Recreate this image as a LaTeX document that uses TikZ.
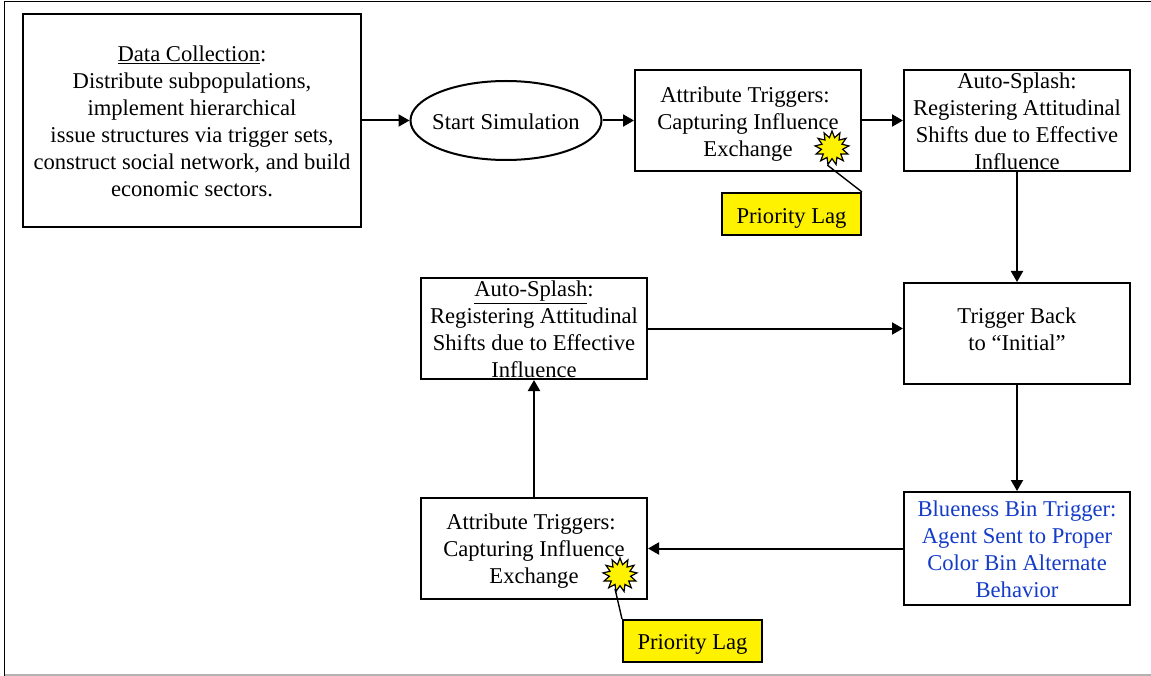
\documentclass[tikz,border=0pt]{standalone}
\usepackage{fontspec}
\setmainfont{Liberation Serif}
\usetikzlibrary{arrows.meta,shapes.geometric}
\definecolor{bluetext}{RGB}{20,60,200}
\tikzset{
  x=1pt,y=-1pt,
  boxed/.style={draw=black,line width=2pt,fill=white,rectangle,inner sep=0pt,font=\fontsize{22.6}{27}\selectfont},
  lagbox/.style={boxed,fill=yellow,minimum width=139pt,minimum height=42pt},
  burst/.style={draw=black,line width=1.2pt,fill=yellow,star,star points=13,star point ratio=1.6,minimum size=34pt,inner sep=0pt},
  flow/.style={draw=black,line width=2pt,-{Triangle[length=11pt,width=12pt]}},
  lead/.style={draw=black,line width=1.4pt},
}
\newcommand{\placed}[2]{\smash{\raisebox{#1pt}{\makebox[0pt]{\parbox[c]{340pt}{\centering #2}}}}}
\begin{document}
\begin{tikzpicture}
\useasboundingbox (0,0) rectangle (1151,676);
\draw[black,line width=1.4pt] (4.5,676) -- (4.5,1.5) -- (1151,1.5);
\draw[black!30,line width=1.2pt] (4.5,675) -- (1151,675);
\node[boxed,minimum width=338pt,minimum height=213pt] (data) at (192,120.5) {\placed{-6.5}{\underline{Data Collection}:\\Distribute subpopulations,\\implement hierarchical\\issue structures via trigger sets,\\construct social network, and build\\economic sectors.}};
\node[boxed,ellipse,minimum width=191pt,minimum height=79pt] (start) at (506,120.5) {\placed{-6}{Start Simulation}};
\node[boxed,minimum width=226pt,minimum height=101pt] (attrA) at (748,120.5) {\placed{-8.5}{Attribute Triggers:\hspace*{6pt}\null\\Capturing Influence\\Exchange}};
\node[boxed,minimum width=226pt,minimum height=101pt] (autoA) at (1017,120.5) {\placed{-5.5}{Auto-Splash:\\Registering Attitudinal\\Shifts due to Effective\\Influence}};
\node[boxed,minimum width=226pt,minimum height=101pt] (back) at (1017,333.5) {\placed{-0.5}{Trigger Back\\to “Initial”}};
\node[boxed,minimum width=226pt,minimum height=101pt] (autoB) at (534,328.5) {\placed{-6}{\underline{Auto-Splash}:\\Registering Attitudinal\\Shifts due to Effective\\Influence}};
\node[boxed,minimum width=226pt,minimum height=101pt] (attrB) at (534,548.5) {\placed{-8}{Attribute Triggers:\hspace*{6pt}\null\\Capturing Influence\\Exchange}};
\node[boxed,minimum width=226pt,minimum height=113pt,text=bluetext] (blue) at (1017,548.5) {\placed{-5.5}{Blueness Bin Trigger:\\Agent Sent to Proper\\Color Bin Alternate\\Behavior}};
\node[lagbox] (lagA) at (791.5,214) {\placed{-9.5}{Priority Lag}};
\node[lagbox] (lagB) at (692.5,641) {\placed{-8.5}{Priority Lag}};
\node[burst] (burstA) at (832,148) {};
\node[burst] (burstB) at (620,575) {};
\draw[lead] (burstA.255) -- (lagA.north east);
\draw[lead] (burstB.250) -- (lagB.north west);
\draw[flow] (data.east) -- (start.west);
\draw[flow] (start.east) -- (attrA.west);
\draw[flow] (attrA.east) -- (autoA.west);
\draw[flow] (autoA.south) -- (back.north);
\draw[flow] (back.south) -- (blue.north);
\draw[flow] (blue.west) -- (attrB.east);
\draw[flow] (attrB.north) -- (autoB.south);
\draw[flow] (autoB.east) -- (autoB.east -| back.west);
\end{tikzpicture}
\end{document}
